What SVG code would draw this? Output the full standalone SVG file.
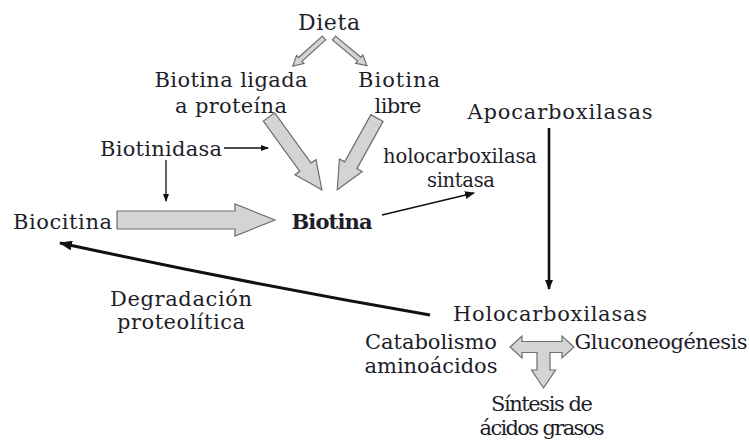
<svg xmlns="http://www.w3.org/2000/svg" width="750" height="446" viewBox="0 0 750 446">
  <defs>
    <style>
      text { font-family: "DejaVu Serif", "Liberation Serif", serif; font-size: 21px; fill: #1e1e2a; text-anchor: middle; }
      .small { font-size: 19.5px; }
      .bold { font-weight: bold; }
      .block { fill: #d4d4d4; stroke: #6e6e6e; stroke-width: 1.2; stroke-linejoin: miter; }
      .thin { fill: none; stroke: #111; }
    </style>
    <marker id="head-s" viewBox="0 0 8 6" refX="7" refY="3" markerWidth="8" markerHeight="6" orient="auto" markerUnits="userSpaceOnUse">
      <path d="M0,0 L8,3 L0,6 Z" fill="#111"/>
    </marker>
    <marker id="head-m" viewBox="0 0 10 8" refX="9" refY="4" markerWidth="10" markerHeight="8" orient="auto" markerUnits="userSpaceOnUse">
      <path d="M0,0 L10,4 L0,8 Z" fill="#111"/>
    </marker>
    <marker id="head-l" viewBox="0 0 13 10" refX="12" refY="5" markerWidth="13" markerHeight="10" orient="auto" markerUnits="userSpaceOnUse">
      <path d="M0,0 L13,5 L0,10 Z" fill="#111"/>
    </marker>
  </defs>

  <rect width="750" height="446" fill="#ffffff"/>

  <!-- connectors -->
  <g id="connectors">
    <!-- Dieta splits into two forms -->
    <path class="block" transform="translate(324,38) rotate(138)" d="M0,-2.5 L32,-2.5 L32,-5.5 L42,0 L32,5.5 L32,2.5 L0,2.5 Z"/>
    <path class="block" transform="translate(334,38) rotate(40)" d="M0,-2.5 L33,-2.5 L33,-5.5 L43,0 L33,5.5 L33,2.5 L0,2.5 Z"/>
    <!-- both forms converge on Biotina -->
    <path class="block" transform="translate(269,117) rotate(54)" d="M0,-7 L62,-7 L62,-13 L90,0 L62,13 L62,7 L0,7 Z"/>
    <path class="block" transform="translate(377,118) rotate(119)" d="M0,-7 L54,-7 L54,-13 L82,0 L54,13 L54,7 L0,7 Z"/>
    <!-- Biocitina to Biotina -->
    <path class="block" d="M117,211 L235,211 L235,204 L275,220 L235,236 L235,229 L117,229 Z"/>
    <!-- Biotinidasa acts on both arrows -->
    <path class="thin" stroke-width="1.3" d="M224,148 L268,148" marker-end="url(#head-s)"/>
    <path class="thin" stroke-width="1.3" d="M166,160 L166,201" marker-end="url(#head-s)"/>
    <!-- Biotina to holocarboxilasa sintasa -->
    <path class="thin" stroke-width="1.6" d="M382,215 L474,193" marker-end="url(#head-m)"/>
    <!-- Apocarboxilasas to Holocarboxilasas -->
    <path class="thin" stroke-width="2.6" d="M549,128 L549,289" marker-end="url(#head-m)"/>
    <!-- proteolytic degradation back to Biocitina -->
    <path class="thin" stroke-width="3" d="M430,315 Q250,284 60,243" marker-end="url(#head-l)"/>
    <!-- three-way pathway arrow -->
    <path class="block" d="M510,347 L522,336 L522,341.5 L562,341.5 L562,336 L574,347 L562,358 L562,352.5 L550,352.5 L550,370 L555.5,370 L543.5,388 L531.5,370 L537,370 L537,352.5 L522,352.5 L522,358 Z"/>
  </g>

  <!-- nodes -->
  <g id="dieta"><text x="329" y="30" style="font-size:22px" textLength="62">Dieta</text></g>
  <g id="biotina-ligada">
    <text x="231" y="87" textLength="153">Biotina ligada</text>
    <text x="231" y="113" textLength="112">a proteína</text>
  </g>
  <g id="biotina-libre">
    <text x="399" y="87" textLength="82">Biotina</text>
    <text x="398" y="113" textLength="47">libre</text>
  </g>
  <g id="apocarboxilasas"><text x="560" y="119" textLength="185">Apocarboxilasas</text></g>
  <g id="biotinidasa"><text x="161" y="156" textLength="122">Biotinidasa</text></g>
  <g id="holocarboxilasa-sintasa">
    <text class="small" x="460" y="163" textLength="154">holocarboxilasa</text>
    <text class="small" x="461" y="187" textLength="68">sintasa</text>
  </g>
  <g id="biocitina"><text x="62.5" y="229" textLength="99">Biocitina</text></g>
  <g id="biotina"><text class="bold" x="332" y="229" textLength="81">Biotina</text></g>
  <g id="degradacion">
    <text x="181" y="306" textLength="142">Degradación</text>
    <text x="181" y="329" textLength="128">proteolítica</text>
  </g>
  <g id="holocarboxilasas"><text x="550" y="321" textLength="194">Holocarboxilasas</text></g>
  <g id="catabolismo">
    <text x="431" y="349" textLength="132">Catabolismo</text>
    <text x="431" y="373" textLength="133">aminoácidos</text>
  </g>
  <g id="gluconeogenesis"><text x="661" y="349" textLength="173">Gluconeogénesis</text></g>
  <g id="sintesis">
    <text x="542" y="411" textLength="102">Síntesis de</text>
    <text x="542" y="435" textLength="125">ácidos grasos</text>
  </g>
</svg>
